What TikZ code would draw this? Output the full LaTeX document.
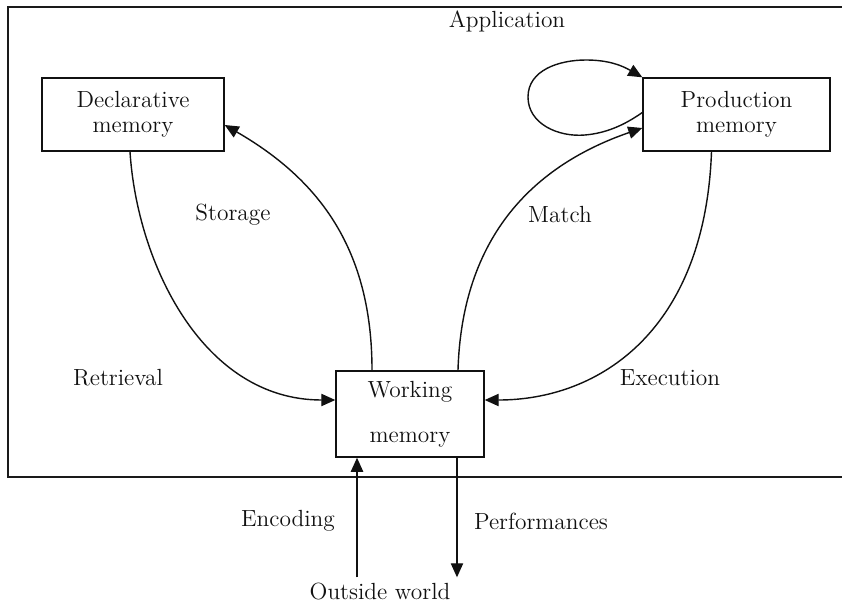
\documentclass[tikz,border=0pt]{standalone}
\usetikzlibrary{arrows.meta, positioning}

\begin{document}
\begin{tikzpicture}[
    x=0.02cm, y=-0.02cm,
    every node/.style={font=\fontsize{13.3}{14.5}\selectfont},
]

% ---------------------------------------------------------------- colours
\definecolor{ink}{HTML}{111111}      % boxes, curves and text
\definecolor{framecolor}{HTML}{1A1A1A}

\tikzset{
    membox/.style={rectangle, draw=ink, line width=0.8pt, align=center,
                   inner sep=0pt, text=ink},
    lab/.style={text=ink},
    flow/.style={-{Triangle[length=8pt, width=7pt]}, line width=0.8pt, ink},
}

\useasboundingbox (0,0) rectangle (842,605);

% ----------------------------------------------------------------------
% the frame, left open to the right
% ----------------------------------------------------------------------
\draw[framecolor, line width=1.1pt] (842,7) -- (8,7) -- (8,477) -- (842,477);

% ----------------------------------------------------------------------
% the three memories
% ----------------------------------------------------------------------
\node[membox, minimum width=3.64cm, minimum height=1.46cm]
    (declmem) at (133,114.5) {Declarative\\memory};
\node[membox, minimum width=3.74cm, minimum height=1.46cm]
    (prodmem) at (736.5,114.5) {Production\\memory};
\node[membox, minimum width=2.96cm, minimum height=1.72cm]
    (workmem) at (410,414) {Working\\[11pt]memory};

\node[lab] (outside) at (380,592) {Outside world};

% ----------------------------------------------------------------------
% labels
% ----------------------------------------------------------------------
\node[lab] (applab)  at (507,21)  {Application};
\node[lab] (storlab) at (233,215) {Storage};
\node[lab] (matchlab) at (560,215) {Match};
\node[lab] (retrlab) at (118,378) {Retrieval};
\node[lab] (execlab) at (670,378) {Execution};
\node[lab] (enclab)  at (288,521) {Encoding};
\node[lab] (perflab) at (541,521) {Performances};

% ----------------------------------------------------------------------
% connectors
% ----------------------------------------------------------------------
\coordinate (encin)  at ([xshift=-1.06cm]workmem.south);
\coordinate (perfin) at ([xshift=0.94cm]workmem.south);

% the loop round to the left of production memory
\coordinate (loopbot)  at (585,135);
\coordinate (loopleft) at (528,97);
\coordinate (looptop)  at (586,60);

\draw[flow] ([xshift=-0.06cm]declmem.south)
    .. controls (137,262) and (202,400) .. ([yshift=0.28cm]workmem.west);
\draw[flow] ([xshift=-0.76cm]workmem.north)
    .. controls (372,250) and (320,180) .. ([yshift=-0.21cm]declmem.east);
\draw[flow] ([xshift=0.96cm]workmem.north)
    .. controls (462,235) and (535,165) .. ([yshift=-0.27cm]prodmem.west);
\draw[flow] ([xshift=-0.5cm]prodmem.south)
    .. controls (705,330) and (600,400) .. ([yshift=0.28cm]workmem.east);
\draw[flow] ([yshift=0.04cm]prodmem.west)
    to[out=215, in=5, looseness=0.9] (loopbot)
    to[out=185, in=-90] (loopleft)
    to[out=90, in=180] (looptop)
    to[out=0, in=150] (prodmem.north west);

\draw[flow] (encin |- outside.north) -- (encin);
\draw[flow] (perfin) -- (perfin |- outside.north);

\end{tikzpicture}
\end{document}
